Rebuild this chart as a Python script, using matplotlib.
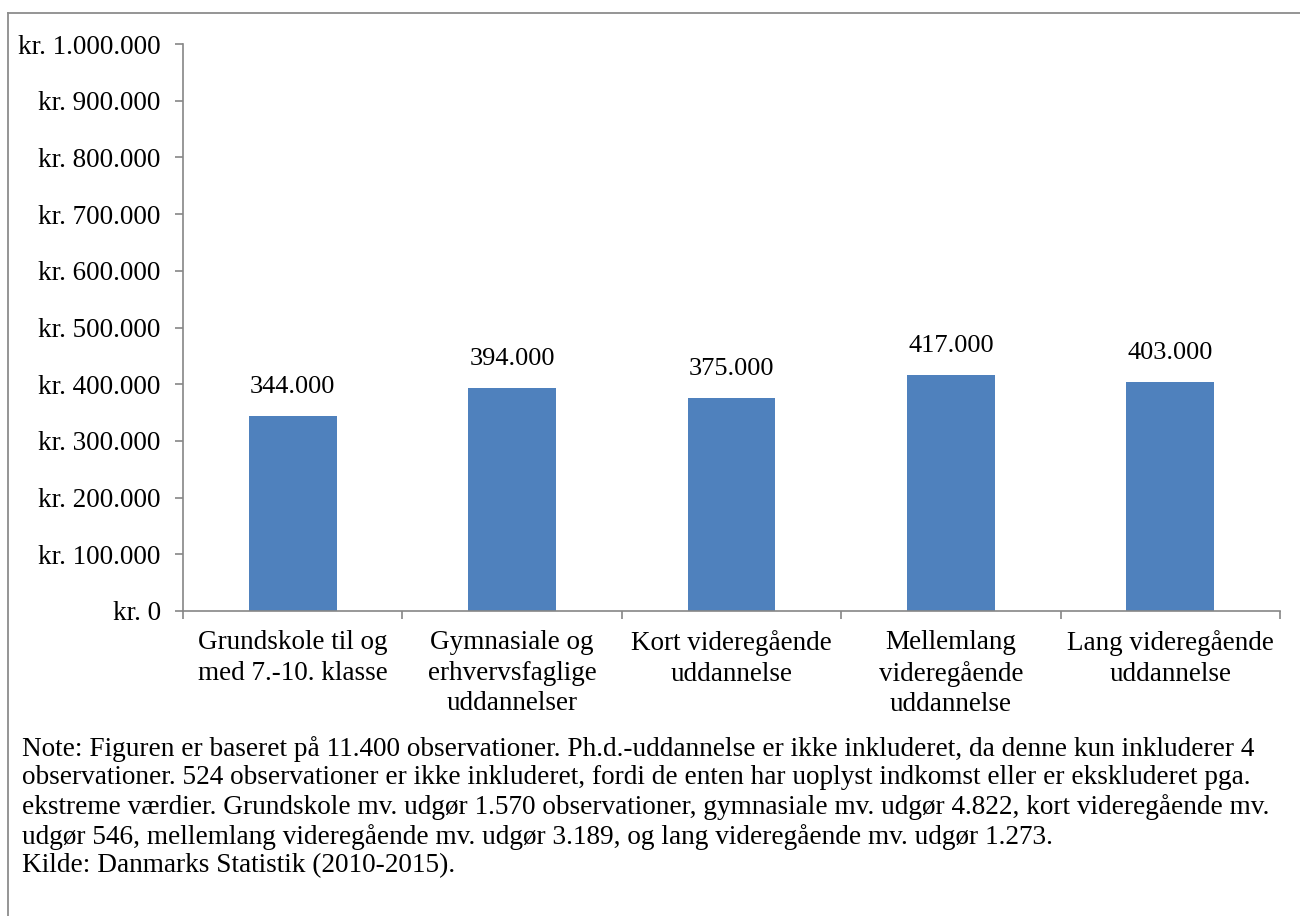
import matplotlib
matplotlib.use("Agg")
import matplotlib.pyplot as plt
from matplotlib.lines import Line2D
from matplotlib.ticker import FuncFormatter

plt.rcParams['font.family'] = ['Liberation Serif', 'DejaVu Serif']

categories = ["Grundskole til og\nmed 7.-10. klasse",
              "Gymnasiale og\nerhvervsfaglige\nuddannelser",
              "Kort videregående\nuddannelse",
              "Mellemlang\nvideregående\nuddannelse",
              "Lang videregående\nuddannelse"]
values = [344000, 394000, 375000, 417000, 403000]
yticks = [0, 100000, 200000, 300000, 400000, 500000, 600000, 700000, 800000, 900000, 1000000]

note = ("Note: Figuren er baseret på 11.400 observationer. Ph.d.-uddannelse er ikke inkluderet, da denne kun inkluderer 4\n"
        "observationer. 524 observationer er ikke inkluderet, fordi de enten har uoplyst indkomst eller er ekskluderet pga.\n"
        "ekstreme værdier. Grundskole mv. udgør 1.570 observationer, gymnasiale mv. udgør 4.822, kort videregående mv.\n"
        "udgør 546, mellemlang videregående mv. udgør 3.189, og lang videregående mv. udgør 1.273.\n"
        "Kilde: Danmarks Statistik (2010-2015).")

def dk(v):
    return f"{int(round(v)):,}".replace(",", ".")

W, H = 1300, 916
fig = plt.figure(figsize=(W/100, H/100), dpi=100)
ax = fig.add_axes([183/W, 1-611/H, (1280-183)/W, (611-44)/H])

gray = '#868686'
x = list(range(len(categories)))
ax.bar(x, values, width=0.4, color='#4F81BD', zorder=2)
ax.set_xlim(-0.5, len(categories)-0.5)
ax.set_ylim(0, 1000000)
ax.set_yticks(yticks)
ax.yaxis.set_major_formatter(FuncFormatter(lambda v, p: "kr. " + dk(v)))
ax.set_xticks([i - 0.5 for i in range(len(categories)+1)])
ax.set_xticklabels([])
ax.set_xticks(x, minor=True)
ax.set_xticklabels(categories, minor=True)
ax.tick_params(axis='x', which='minor', length=0, pad=14, labelsize=19.5)
ax.tick_params(axis='x', which='major', length=6, color=gray, width=1.2)
ax.tick_params(axis='y', length=6, color=gray, width=1.2, pad=10, labelsize=19.5)
for lbl in ax.get_xticklabels(minor=True):
    lbl.set_linespacing(1.27)
for s in ['top', 'right']:
    ax.spines[s].set_visible(False)
for s in ['left', 'bottom']:
    ax.spines[s].set_color(gray)
    ax.spines[s].set_linewidth(1.2)

for xi, v in zip(x, values):
    ax.annotate(dk(v), (xi, v), xytext=(0, 13), textcoords='offset points',
                ha='center', va='bottom', fontsize=19)

fig.text(22/W, 1-736/H, note, ha='left', va='top', fontsize=19.6, linespacing=1.185)

fig.add_artist(Line2D([8/W, 8/W], [0, 1-13/H], transform=fig.transFigure, color='#8c8c8c', lw=1.3))
fig.add_artist(Line2D([8/W, 1], [1-13/H, 1-13/H], transform=fig.transFigure, color='#8c8c8c', lw=1.3))

fig.savefig("out.png", dpi=100)
